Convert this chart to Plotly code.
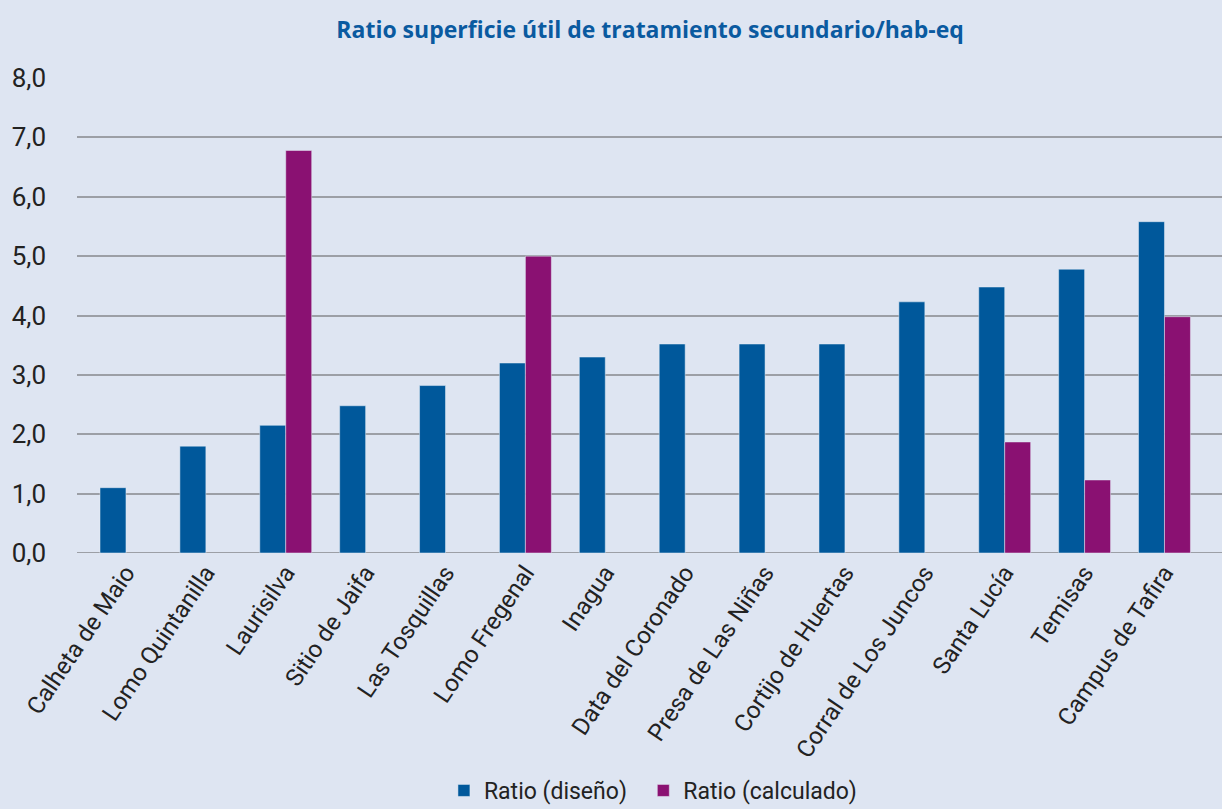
import plotly.graph_objects as go

categories = ["Calheta de Maio", "Lomo Quintanilla", "Laurisilva", "Sitio de Jaifa",
              "Las Tosquillas", "Lomo Fregenal", "Inagua", "Data del Coronado",
              "Presa de Las Niñas", "Cortijo de Huertas", "Corral de Los Juncos",
              "Santa Lucía", "Temisas", "Campus de Tafira"]
ratio_diseno = [1.1, 1.8, 2.15, 2.48, 2.82, 3.2, 3.3, 3.52, 3.52, 3.52, 4.23, 4.48, 4.78, 5.58]
ratio_calculado = [None, None, 6.78, None, None, 5.0, None, None, None, None, None, 1.87, 1.23, 3.98]
yticks = [0, 1, 2, 3, 4, 5, 6, 7, 8]
yticklabels = ["0,0", "1,0", "2,0", "3,0", "4,0", "5,0", "6,0", "7,0", "8,0"]

BLUE = "#00589b"
PURPLE = "#8a1172"
BG = "#dee5f2"
FONT = "Roboto, sans-serif"

x = list(range(len(categories)))

fig = go.Figure()
fig.add_trace(go.Bar(x=x, y=ratio_diseno, name="Ratio (diseño)  ", marker_color=BLUE))
fig.add_trace(go.Bar(x=x, y=ratio_calculado, name="Ratio (calculado)", marker_color=PURPLE))

fig.update_layout(
    width=1222, height=809,
    paper_bgcolor=BG, plot_bgcolor=BG,
    margin=dict(l=77, r=0, t=78, b=256, autoexpand=False),
    barmode="group", bargap=0.35, bargroupgap=0,
    title=dict(text="<b>Ratio superficie útil de tratamiento secundario/hab-eq</b>",
               x=0.532, xanchor="center", y=0.963, yanchor="middle",
               font=dict(family="Open Sans, sans-serif", size=23, color="#0a5aa0")),
    font=dict(family=FONT, color="#222222"),
    showlegend=True,
    legend=dict(orientation="h", x=0.503, xanchor="center", y=-0.5, yanchor="middle",
                font=dict(family=FONT, size=23, color="#222222"),
                itemwidth=30, traceorder="normal"),
)
fig.update_xaxes(
    tickmode="array", tickvals=x, ticktext=categories, tickangle=-56,
    range=[-0.613, 13.72], showgrid=False, zeroline=False, showline=False,
    tickfont=dict(family=FONT, size=24, color="#222222"), ticks="", automargin=False,
)
fig.update_yaxes(
    range=[0, 8.0], tickmode="array", tickvals=yticks, ticktext=yticklabels,
    showgrid=True, gridcolor="#9c9fa6", gridwidth=2, zeroline=False,
    showline=False, ticks="", ticklen=0, automargin=False, ticklabelstandoff=30,
    tickfont=dict(family=FONT, size=26, color="#222222"),
)
fig.add_hline(y=0, line_color="#9c9fa6", line_width=2, layer="below")
fig.write_html("out.html", config={"displayModeBar": False},
               post_script="document.body.style.margin='0';document.body.style.background='#dee5f2';")
